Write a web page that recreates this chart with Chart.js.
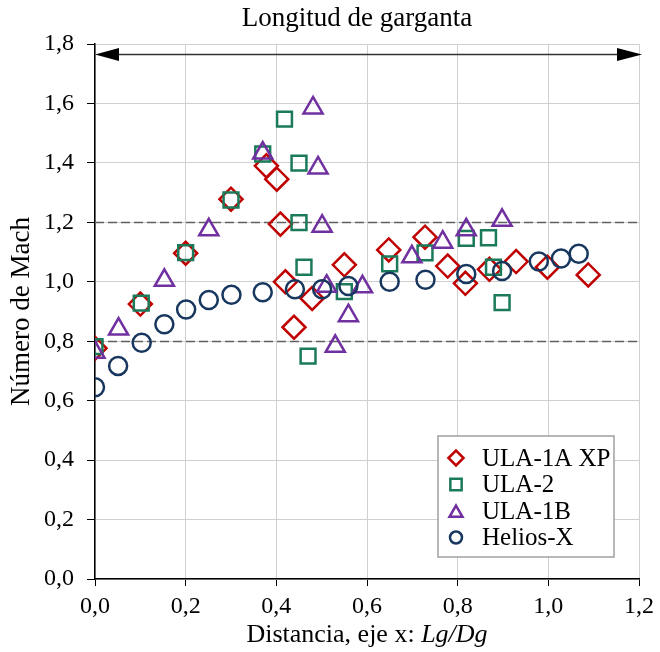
<!DOCTYPE html>
<html>
<head>
<meta charset="utf-8">
<script src="https://cdn.jsdelivr.net/npm/chart.js@4.4.0/dist/chart.umd.min.js"></script>
<style>
  body { margin: 0; background: #fff; }
  #wrap { width: 660px; height: 652px; }
</style>
</head>
<body>
<div id="wrap"><canvas id="myChart"></canvas></div>
<script>
// ---- data ----
let seriesNames = ['ULA-1A XP', 'ULA-2', 'ULA-1B', 'Helios-X'];

let ula1aX = [0.0, 0.10, 0.20, 0.30, 0.378, 0.401, 0.409, 0.42, 0.439, 0.479, 0.55, 0.648, 0.728, 0.778, 0.817, 0.87, 0.929, 0.998, 1.088];
let ula1aY = [0.776, 0.925, 1.096, 1.278, 1.39, 1.345, 1.194, 1.0, 0.847, 0.944, 1.057, 1.107, 1.15, 1.053, 0.995, 1.042, 1.068, 1.049, 1.023];

let ula2X = [0.0, 0.102, 0.20, 0.30, 0.37, 0.418, 0.45, 0.45, 0.461, 0.47, 0.55, 0.65, 0.728, 0.819, 0.868, 0.879, 0.898];
let ula2Y = [0.782, 0.928, 1.098, 1.275, 1.43, 1.547, 1.399, 1.199, 1.049, 0.75, 0.967, 1.06, 1.097, 1.146, 1.148, 1.049, 0.93];

let ula1bX = [0.0, 0.052, 0.153, 0.251, 0.37, 0.481, 0.492, 0.501, 0.511, 0.53, 0.559, 0.59, 0.699, 0.767, 0.819, 0.898];
let ula1bY = [0.763, 0.841, 1.005, 1.175, 1.433, 1.585, 1.383, 1.187, 0.985, 0.783, 0.886, 0.983, 1.084, 1.133, 1.175, 1.207];

let heliosX = [0.0, 0.051, 0.103, 0.153, 0.201, 0.251, 0.301, 0.37, 0.441, 0.501, 0.559, 0.65, 0.729, 0.819, 0.898, 0.979, 1.028, 1.067];
let heliosY = [0.645, 0.717, 0.795, 0.857, 0.907, 0.939, 0.956, 0.965, 0.975, 0.975, 0.986, 1.0, 1.007, 1.026, 1.036, 1.068, 1.078, 1.094];

// reference lines and the throat-length arrow
let dashedLevels = [0.8, 1.2];
let arrowY = 1.765;
let arrowFrom = 0.0;
let arrowTo = 1.2;

let colors = ['#C00000', '#1B7A5A', '#7030A0', '#17375E'];
let styles = ['rectRot', 'rect', 'triangle', 'circle'];
let radii = [11.5, 10.5, 11, 9];
let legendRadii = [7.5, 8, 7.5, 6];

let serif = '"Liberation Serif", "Times New Roman", serif';

function toPoints(xs, ys) {
    return xs.map(function (x, i) { return { x: x, y: ys[i] }; });
}

function comma(v) {
    return Number(v).toFixed(1).replace('.', ',');
}

// draws dashed lines, arrow, titles and the legend box
const extras = {
    id: 'extras',
    beforeDatasetsDraw(chart) {
        let ctx = chart.ctx;
        let xs = chart.scales.x, ys = chart.scales.y;
        let area = chart.chartArea;
        ctx.save();
        // DEBUT LIGNES POINTILLEES
        ctx.strokeStyle = '#606060';
        ctx.lineWidth = 1.5;
        ctx.setLineDash([9, 4]);
        dashedLevels.forEach(function (v) {
            let py = Math.round(ys.getPixelForValue(v)) + 0.5;
            ctx.beginPath();
            ctx.moveTo(area.left, py);
            ctx.lineTo(area.right, py);
            ctx.stroke();
        });
        ctx.setLineDash([]);
        // FIN LIGNES POINTILLEES
        // DEBUT FLECHE
        let ay = ys.getPixelForValue(arrowY);
        let x0 = xs.getPixelForValue(arrowFrom);
        let x1 = xs.getPixelForValue(arrowTo) + 3;
        ctx.strokeStyle = '#333';
        ctx.lineWidth = 1.5;
        ctx.beginPath();
        ctx.moveTo(x0 + 10, ay);
        ctx.lineTo(x1 - 10, ay);
        ctx.stroke();
        ctx.fillStyle = '#000';
        ctx.beginPath();
        ctx.moveTo(x0, ay);
        ctx.lineTo(x0 + 24, ay - 6.5);
        ctx.lineTo(x0 + 24, ay + 6.5);
        ctx.closePath();
        ctx.fill();
        ctx.beginPath();
        ctx.moveTo(x1, ay);
        ctx.lineTo(x1 - 25, ay - 6.5);
        ctx.lineTo(x1 - 25, ay + 6.5);
        ctx.closePath();
        ctx.fill();
        // FIN FLECHE
        ctx.restore();
    },
    afterDraw(chart) {
        let ctx = chart.ctx;
        let area = chart.chartArea;
        ctx.save();
        ctx.fillStyle = '#000';
        ctx.textBaseline = 'middle';

        // top title
        ctx.font = '27px ' + serif;
        ctx.textAlign = 'center';
        ctx.fillText('Longitud de garganta', 357, 19);

        // x axis title, second part in italics
        let part1 = 'Distancia, eje x: ';
        let part2 = 'Lg/Dg';
        ctx.font = '26px ' + serif;
        let w1 = ctx.measureText(part1).width;
        ctx.font = 'italic 26px ' + serif;
        let w2 = ctx.measureText(part2).width;
        let startX = (area.left + area.right) / 2 - (w1 + w2) / 2;
        ctx.textAlign = 'left';
        ctx.font = '26px ' + serif;
        ctx.fillText(part1, startX, 635);
        ctx.font = 'italic 26px ' + serif;
        ctx.fillText(part2, startX + w1, 635);

        // y axis title
        ctx.save();
        ctx.translate(22, (area.top + area.bottom) / 2);
        ctx.rotate(-Math.PI / 2);
        ctx.textAlign = 'center';
        ctx.font = '27px ' + serif;
        ctx.fillText('Número de Mach', 0, 0);
        ctx.restore();

        // DEBUT LEGENDE
        let lx = 438, ly = 436, lw = 176, lh = 121;
        ctx.fillStyle = '#fff';
        ctx.fillRect(lx, ly, lw, lh);
        ctx.strokeStyle = '#a0a0a0';
        ctx.lineWidth = 1.5;
        ctx.strokeRect(lx, ly, lw, lh);
        ctx.font = '25px ' + serif;
        ctx.textAlign = 'left';
        for (let i = 0; i < seriesNames.length; i++) {
            let rowY = ly + 22 + i * 26.5;
            ctx.strokeStyle = colors[i];
            ctx.fillStyle = 'rgba(0,0,0,0)';
            ctx.lineWidth = 2.5;
            Chart.helpers.drawPoint(ctx, {
                pointStyle: styles[i],
                radius: legendRadii[i],
                rotation: 0,
                borderWidth: 2.5
            }, lx + 18, rowY + (styles[i] === 'triangle' ? 2 : 0));
            ctx.fillStyle = '#000';
            ctx.fillText(seriesNames[i], lx + 44, rowY + 1);
        }
        // FIN LEGENDE
        ctx.restore();
    }
};

let allX = [ula1aX, ula2X, ula1bX, heliosX];
let allY = [ula1aY, ula2Y, ula1bY, heliosY];
let drawOrder = [4, 3, 2, 1];

let datasets = seriesNames.map(function (name, i) {
    return {
        label: name,
        data: toPoints(allX[i], allY[i]),
        pointStyle: styles[i],
        pointRadius: radii[i],
        pointHoverRadius: radii[i],
        pointBorderWidth: 2.5,
        pointBorderColor: colors[i],
        pointBackgroundColor: 'rgba(0,0,0,0)',
        borderColor: colors[i],
        backgroundColor: 'rgba(0,0,0,0)',
        showLine: false,
        order: drawOrder[i]
    };
});

let tickFont = { family: serif, size: 24 };

let myChart = document.getElementById('myChart').getContext('2d');
let chart = new Chart(myChart, {
    type: 'scatter',
    data: { datasets: datasets },
    options: {
        responsive: true,
        maintainAspectRatio: false,
        animation: false,
        layout: { padding: { top: 44, right: 16, left: 0, bottom: 0 } },
        plugins: {
            legend: { display: false },
            title: { display: false },
            tooltip: { enabled: false }
        },
        scales: {
            x: {
                type: 'linear',
                min: 0,
                max: 1.2,
                ticks: {
                    stepSize: 0.2,
                    color: '#000',
                    font: tickFont,
                    padding: 6,
                    maxRotation: 0,
                    callback: function (v) { return comma(v); }
                },
                grid: { color: '#d0d0d0', lineWidth: 1, tickColor: '#000', tickLength: 7 },
                border: { color: '#000', width: 1.5 },
                afterFit: function (scale) { scale.height = 73; }
            },
            y: {
                type: 'linear',
                min: 0,
                max: 1.8,
                ticks: {
                    stepSize: 0.2,
                    color: '#000',
                    font: tickFont,
                    padding: 13,
                    callback: function (v) { return comma(v); }
                },
                grid: { color: '#d0d0d0', lineWidth: 1, tickColor: '#000', tickLength: 8 },
                border: { color: '#000', width: 1.5 },
                afterFit: function (scale) { scale.width = 95; }
            }
        }
    },
    plugins: [extras]
});
</script>
</body>
</html>
